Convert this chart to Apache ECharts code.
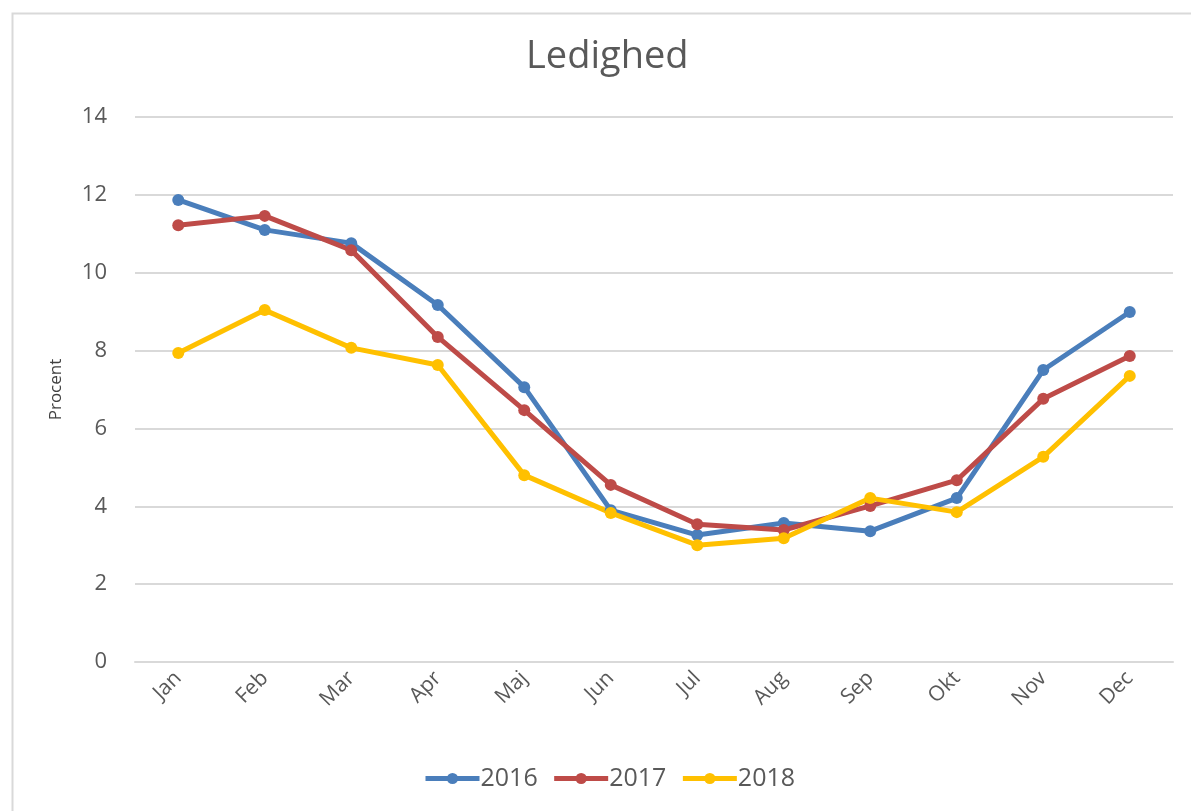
<!DOCTYPE html>
<html>
<head>
<meta charset="utf-8">
<script src="https://cdn.jsdelivr.net/npm/echarts@6/dist/echarts.min.js"></script>
<style>
html,body{margin:0;padding:0;background:#fff;}
#chart{width:1191px;height:811px;}
</style>
</head>
<body>
<div id="chart"></div>
<script>
var title = 'Ledighed';
var yAxisName = 'Procent';
var months = ['Jan','Feb','Mar','Apr','Maj','Jun','Jul','Aug','Sep','Okt','Nov','Dec'];
var names = ['2016','2017','2018'];
var s2016 = [11.87, 11.1, 10.76, 9.17, 7.06, 3.9, 3.26, 3.57, 3.36, 4.21, 7.5, 8.99];
var s2017 = [11.22, 11.46, 10.58, 8.35, 6.47, 4.55, 3.54, 3.39, 4.01, 4.67, 6.76, 7.86];
var s2018 = [7.94, 9.04, 8.07, 7.63, 4.80, 3.83, 3.0, 3.18, 4.21, 3.85, 5.27, 7.35];
var colors = ['#4A7EBB', '#BE4B48', '#FFC000'];
var yTicks = [0, 2, 4, 6, 8, 10, 12, 14];

var chart = echarts.init(document.getElementById('chart'), null, {renderer: 'canvas'});
var font = '"Open Sans", "Noto Sans", sans-serif';
function mk(name, data, color) {
  return {
    name: name, type: 'line', data: data,
    symbol: 'circle', symbolSize: 12,
    lineStyle: {width: 5, color: color},
    itemStyle: {color: color},
    emphasis: {disabled: true}
  };
}
chart.setOption({
  animation: false,
  color: colors,
  graphic: [{
    type: 'rect', left: 10, top: 11,
    shape: {width: 1200, height: 820},
    style: {fill: 'none', stroke: '#d9d9d9', lineWidth: 2},
    silent: true
  }],
  title: {
    text: title, left: 521, top: 33,
    textStyle: {fontFamily: font, fontSize: 38, fontWeight: 'normal', color: '#595959'}
  },
  legend: {
    bottom: 15, left: 418,
    itemWidth: 54, itemHeight: 14, itemGap: 14,
    lineStyle: {width: 5},
    textStyle: {fontFamily: font, fontSize: 25, color: '#595959', padding: [0, 0, 0, -4]},
    data: names
  },
  grid: {left: 135, right: 18, top: 117, bottom: 149, containLabel: false},
  xAxis: {
    type: 'category', data: months, boundaryGap: true,
    axisLine: {show: true, lineStyle: {color: '#d9d9d9', width: 2}},
    axisTick: {show: false},
    axisLabel: {rotate: 45, margin: 13, fontFamily: font, fontSize: 21, color: '#595959'}
  },
  yAxis: {
    type: 'value', min: 0, max: 14, interval: 2,
    name: yAxisName, nameLocation: 'middle', nameGap: 70, nameRotate: 90,
    nameTextStyle: {fontFamily: font, fontSize: 17, color: '#404040'},
    axisLine: {show: false}, axisTick: {show: false},
    axisLabel: {margin: 28, fontFamily: font, fontSize: 22, color: '#595959',
      formatter: function (v) { return yTicks.indexOf(v) >= 0 ? String(v) : ''; }},
    splitLine: {lineStyle: {color: '#d9d9d9', width: 2}}
  },
  series: [mk(names[0], s2016, colors[0]), mk(names[1], s2017, colors[1]), mk(names[2], s2018, colors[2])]
});
</script>
</body>
</html>
